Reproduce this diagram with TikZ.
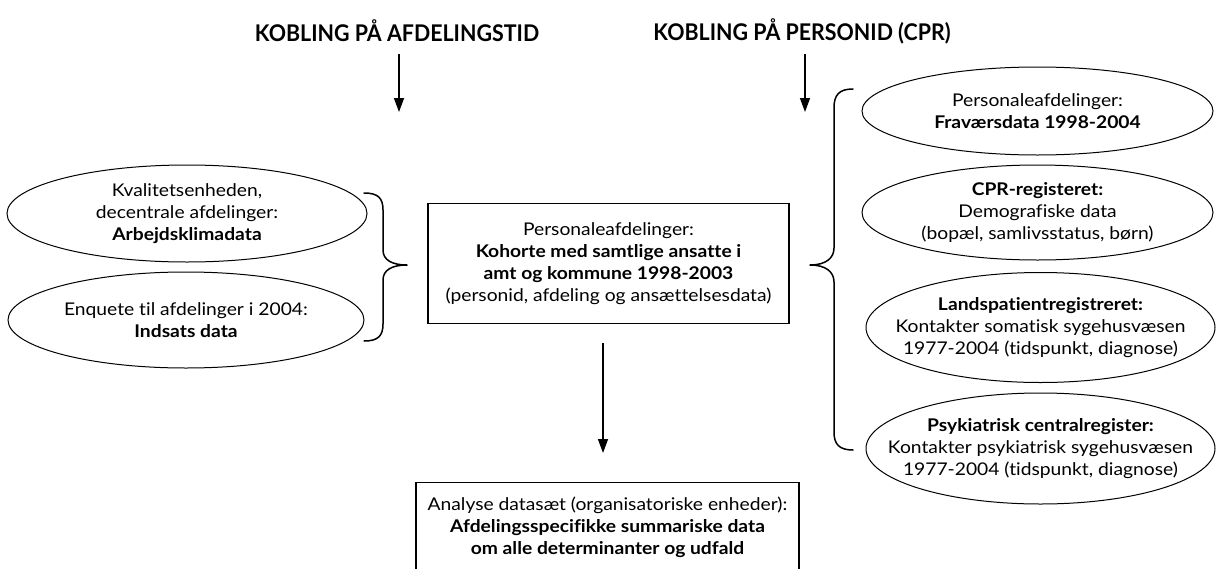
\documentclass[tikz,border=0pt]{standalone}
\usepackage{fontspec}
\setmainfont{Lato}[FakeStretch=1.1,Ligatures=NoCommon]
\newfontfamily\hdrfont[FakeStretch=0.93,Ligatures=NoCommon]{Lato Bold}
\usetikzlibrary{shapes.geometric,arrows.meta}
\newcommand\mybody{\fontsize{17.5}{22}\selectfont}
\tikzset{
  ell/.style={ellipse, draw, line width=1pt, inner sep=0pt},
  boxnode/.style={rectangle, draw, line width=1.2pt, inner sep=0pt, align=center, font=\mybody},
  txt/.style={inner sep=0pt, align=center, font=\mybody},
  hdr/.style={inner sep=0pt, font=\hdrfont\fontsize{23}{26}\selectfont},
  arr/.style={line width=1.4pt, -{Triangle[length=14pt,width=10pt]}},
  bracepath/.style={line width=1.5pt, line join=round, line cap=round}
}
\begin{document}
\begin{tikzpicture}[x=1pt,y=-1pt]
\useasboundingbox (0,0) rectangle (1216,568);
% headers
\node[hdr] (h1) at (397,31) {KOBLING PÅ AFDELINGSTID};
\node[hdr] (h2) at (802,31) {KOBLING PÅ PERSONID (CPR)};
\coordinate (h1s) at (399,54);
\coordinate (h1e) at (399,112);
\coordinate (h2s) at (805,54);
\coordinate (h2e) at (805,112);
\draw[arr] (h1s) -- (h1e);
\draw[arr] (h2s) -- (h2e);
% left ellipses
\node[ell, minimum width=360pt, minimum height=97pt] (l1) at (187,213.5) {};
\node[txt] (l1t) at (l1) {Kvalitetsenheden,\\ decentrale afdelinger:\\ \textbf{Arbejdsklimadata}};
\node[ell, minimum width=356pt, minimum height=96pt] (l2) at (186,320) {};
\node[txt] (l2t) at (l2) {Enquete til afdelinger i 2004:\\ \textbf{Indsats data}};
% left brace
\draw[bracepath] (364,193) .. controls (378,193) and (383,198) .. (383,210) -- (383,250)
  .. controls (383,260) and (392,265) .. (407,265)
  .. controls (392,265) and (383,270) .. (383,280) -- (383,324)
  .. controls (383,336) and (378,341) .. (364,341);
% center box
\node[boxnode, minimum width=361pt, minimum height=120pt] (c) at (608.5,263.5)
  {Personaleafdelinger:\\ \textbf{Kohorte med samtlige ansatte i}\\ \textbf{amt og kommune 1998-2003}\\ (personid, afdeling og ansættelsesdata)};
% right brace
\draw[bracepath] (853,89) .. controls (839,89) and (834,95) .. (834,108) -- (834,248)
  .. controls (834,258) and (826,265) .. (810,265)
  .. controls (826,265) and (834,272) .. (834,282) -- (834,432)
  .. controls (834,444) and (839,450) .. (853,450);
% right ellipses
\node[ell, minimum width=351pt, minimum height=88pt] (r1) at (1037.5,111) {};
\node[txt] (r1t) at (r1) {Personaleafdelinger:\\ \textbf{Fraværsdata 1998-2004}};
\node[ell, minimum width=351pt, minimum height=95pt] (r2) at (1037.5,212.5) {};
\node[txt] (r2t) at (r2) {\textbf{CPR-registeret:}\\ Demografiske data\\ (bopæl, samlivsstatus, børn)};
\node[ell, minimum width=349pt, minimum height=110pt] (r3) at (1040.5,327.5) {};
\node[txt] (r3t) at (r3) {\textbf{Landspatientregistreret:}\\ Kontakter somatisk sygehusvæsen\\ 1977-2004 (tidspunkt, diagnose)};
\node[ell, minimum width=349pt, minimum height=111pt] (r4) at (1040.5,448.5) {};
\node[txt] (r4t) at (r4) {\textbf{Psykiatrisk centralregister:}\\ Kontakter psykiatrisk sygehusvæsen\\ 1977-2004 (tidspunkt, diagnose)};
% arrow to bottom box
\coordinate (ce) at (603,453);
\draw[arr] ([yshift=-19pt]c.south -| ce) -- (ce);
% bottom box
\node[boxnode, minimum width=383pt, minimum height=100pt, anchor=north] (b) at (607.5,482) {};
\node[txt] (bt) at (607.5,527)
  {Analyse datasæt (organisatoriske enheder):\\ \textbf{Afdelingsspecifikke summariske data}\\ \textbf{om alle determinanter og udfald}};
\end{tikzpicture}
\end{document}
